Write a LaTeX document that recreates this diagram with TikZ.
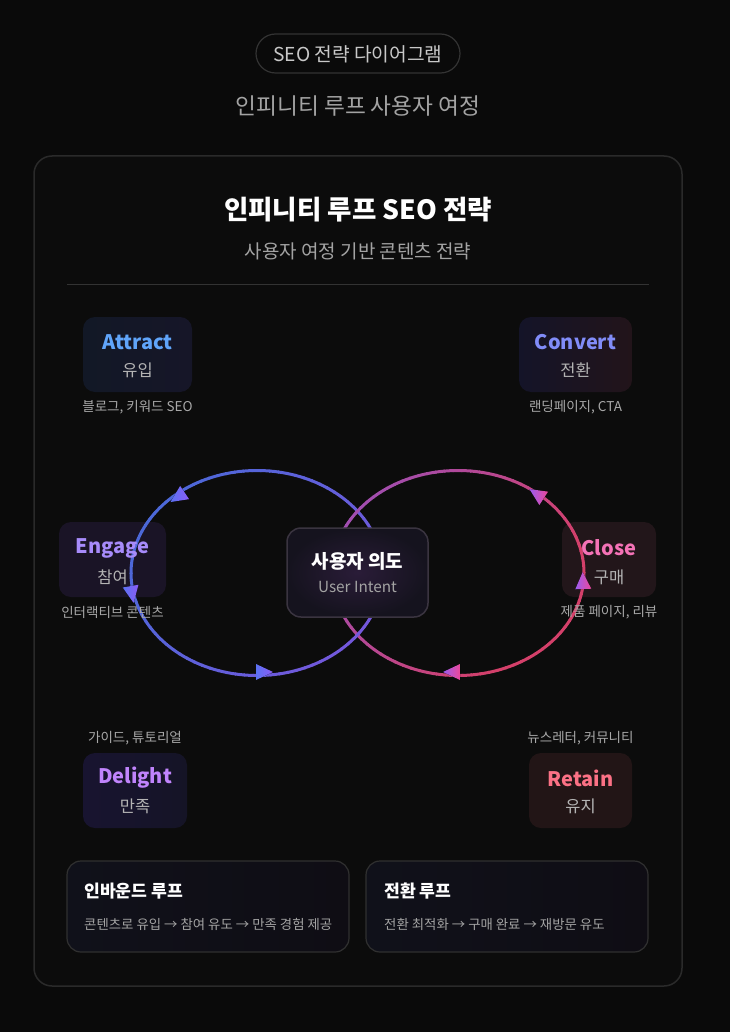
\documentclass[tikz,border=0pt]{standalone}
\usepackage{fontspec}
\setmainfont{Noto Sans CJK KR}
\usetikzlibrary{calc}
\definecolor{bg}{HTML}{0A0A0A}
\definecolor{cardfill}{HTML}{0C0C0C}
\definecolor{cardline}{HTML}{2A2A2A}
\definecolor{pillline}{HTML}{333333}
\definecolor{gA}{HTML}{C8C8C8}
\definecolor{gB}{HTML}{A3A3A3}
\definecolor{gC}{HTML}{B4B4B4}
\definecolor{cap}{HTML}{A8A8A8}
\definecolor{cAttract}{HTML}{60A5FA}
\definecolor{cConvert}{HTML}{818CF8}
\definecolor{cEngage}{HTML}{A78BFA}
\definecolor{cClose}{HTML}{F472B6}
\definecolor{cDelight}{HTML}{C084FC}
\definecolor{cRetain}{HTML}{FB7185}
\definecolor{lpA}{HTML}{4C68D8}
\definecolor{lpB}{HTML}{7458DC}
\definecolor{rpA}{HTML}{9850BC}
\definecolor{rpB}{HTML}{D4406A}
\definecolor{laA}{HTML}{5B72F2}
\definecolor{laB}{HTML}{8B5CF6}
\definecolor{raA}{HTML}{9B5CF0}
\definecolor{raB}{HTML}{EC4899}
\definecolor{fAttractL}{HTML}{121826}
\definecolor{fAttractR}{HTML}{161628}
\definecolor{fConvertL}{HTML}{141428}
\definecolor{fConvertR}{HTML}{22141A}
\definecolor{fEngage}{HTML}{1A1426}
\definecolor{fClose}{HTML}{22161A}
\definecolor{fDelightL}{HTML}{181430}
\definecolor{fDelightR}{HTML}{151426}
\definecolor{fRetain}{HTML}{221516}
\definecolor{cenIn}{HTML}{2A1C38}
\definecolor{cenOut}{HTML}{15131E}
\definecolor{cenLine}{HTML}{3A3440}
\definecolor{botL}{HTML}{10111A}
\definecolor{botR}{HTML}{0F0D14}
\definecolor{botLine}{HTML}{303030}
\tikzset{
  stagebox/.style={rounded corners=12pt, inner sep=0pt, minimum height=75pt},
  sttl/.style={inner sep=0pt, anchor=center, font=\bfseries\fontsize{20}{24}\selectfont},
  ssub/.style={inner sep=0pt, anchor=center, text=gC, font=\fontsize{16.5}{20}\selectfont},
  scap/.style={inner sep=0pt, anchor=center, text=cap, font=\fontsize{13.5}{16}\selectfont},
  loopline/.style={line width=3pt, line cap=round},
  botbox/.style={rounded corners=14pt, draw=botLine, line width=1.2pt, inner sep=0pt,
    minimum width=282pt, minimum height=91pt, left color=botL, right color=botR},
  bttl/.style={inner sep=0pt, anchor=west, text=white, font=\bfseries\fontsize{17.2}{20}\selectfont},
  bsub/.style={inner sep=0pt, anchor=west, text=gB, font=\fontsize{13.4}{16}\selectfont},
}
\begin{document}
\begin{tikzpicture}[x=1pt,y=-1pt]
\useasboundingbox (0,0) rectangle (730,1032);
\fill[bg] (0,0) rectangle (730,1032);

% header
\node[draw=pillline, line width=1.2pt, fill=bg, rounded corners=19.5pt, minimum width=204pt,
      minimum height=39pt, inner sep=0pt] (pill) at (358,53.5) {};
\node[inner sep=0pt, text=gA, font=\fontsize{19.2}{22}\selectfont] (pilltxt) at (358,54) {SEO 전략 다이어그램};
\node[inner sep=0pt, text=gB, font=\fontsize{22.7}{26}\selectfont] (subtitle) at (358,106) {인피니티 루프 사용자 여정};

% card
\node[draw=cardline, line width=1.5pt, fill=cardfill, rounded corners=18pt, minimum width=648pt,
      minimum height=830pt, inner sep=0pt] (card) at (358,571) {};
\node[inner sep=0pt, text=white, font=\bfseries\fontsize{26.5}{31}\selectfont] (title) at (358,210) {인피니티 루프 SEO 전략};
\node[inner sep=0pt, text=gB, font=\fontsize{19}{22}\selectfont] (ctitle) at (358,251) {사용자 여정 기반 콘텐츠 전략};
\coordinate (divL) at (67,284);
\coordinate (divR) at (649,284);
\draw[pillline, line width=1pt] (divL) -- (divR);

% stage boxes
\node[stagebox, minimum width=109pt, left color=fAttractL, right color=fAttractR] (attract) at (137.5,354.5) {};
\node[stagebox, minimum width=113pt, left color=fConvertL, right color=fConvertR] (convert) at (575.5,354.5) {};
\node[stagebox, minimum width=107pt, fill=fEngage] (engage) at (112.5,559.5) {};
\node[stagebox, minimum width=94pt, fill=fClose] (close) at (609,559.5) {};
\node[stagebox, minimum width=104pt, left color=fDelightL, right color=fDelightR] (delight) at (135,790.5) {};
\node[stagebox, minimum width=103pt, fill=fRetain] (retain) at (580.5,790.5) {};

% loops
\coordinate (cL) at (257,573);
\coordinate (cR) at (458,573);
\foreach \a in {0,4,...,356}{
  \pgfmathtruncatemacro\p{50+50*cos(\a+30)}
  \pgfmathtruncatemacro\q{min(100,65+50*cos(\a+30))}
  \draw[loopline, draw={lpB!\p!lpA}] (cL) ++(\a:126pt and 102.5pt)
     arc[start angle=\a, delta angle=4.4, x radius=126pt, y radius=102.5pt];
  \draw[loopline, draw={rpB!\q!rpA}] (cR) ++(\a:126pt and 102.5pt)
     arc[start angle=\a, delta angle=4.4, x radius=126pt, y radius=102.5pt];
}

% stage texts
\node[sttl, text=cAttract] (attractT) at (137.5,342) {Attract};
\node[ssub] (attractS) at (137.5,370) {유입};
\node[scap] (attractC) at (137.5,407) {블로그, 키워드 SEO};
\node[sttl, text=cConvert] (convertT) at (575.5,342) {Convert};
\node[ssub] (convertS) at (575.5,370) {전환};
\node[scap] (convertC) at (575.5,407) {랜딩페이지, CTA};
\node[sttl, text=cEngage] (engageT) at (112.5,548) {Engage};
\node[ssub] (engageS) at (112.5,577) {참여};
\node[scap] (engageC) at (112.5,612) {인터랙티브 콘텐츠};
\node[sttl, text=cClose] (closeT) at (609,548) {Close};
\node[ssub] (closeS) at (609,577) {구매};
\node[scap] (closeC) at (609,612) {제품 페이지, 리뷰};
\node[sttl, text=cDelight] (delightT) at (135,778) {Delight};
\node[ssub] (delightS) at (135,806) {만족};
\node[scap] (delightC) at (135,738) {가이드, 튜토리얼};
\node[sttl, text=cRetain] (retainT) at (580.5,778) {Retain};
\node[ssub] (retainS) at (580.5,806) {유지};
\node[scap] (retainC) at (580.5,738) {뉴스레터, 커뮤니티};

% arrowheads
\foreach \x/\y/\r in {178/497/214, 132/594/-80, 264/672/0}{
  \fill[shift={(\x,\y)}, rotate=\r, left color=laA, right color=laB]
    (9pt,0pt) -- (-8pt,8pt) -- (-8pt,-8pt) -- cycle;
}
\foreach \x/\y/\r in {452/672/180, 583/581/92, 537/494/147}{
  \fill[shift={(\x,\y)}, rotate=\r, left color=raA, right color=raB]
    (9pt,0pt) -- (-8pt,8pt) -- (-8pt,-8pt) -- cycle;
}

% center
\node[draw=cenLine, line width=1.5pt, rounded corners=14pt, inner sep=0pt, minimum width=141pt,
      minimum height=89pt, inner color=cenIn, outer color=cenOut] (center) at (357.5,572.5) {};
\node[inner sep=0pt, text=white, font=\bfseries\fontsize{19}{22}\selectfont] (centerT) at (357.5,561) {사용자 의도};
\node[inner sep=0pt, text=gB, font=\fontsize{15.3}{18}\selectfont] (centerS) at (357.5,587) {User Intent};

% bottom boxes
\node[botbox] (inbound) at (208,906.5) {};
\node[bttl] (inboundT) at (84,891) {인바운드 루프};
\node[bsub] (inboundS) at (84,924) {콘텐츠로 유입 → 참여 유도 → 만족 경험 제공};
\node[botbox] (conv) at (507,906.5) {};
\node[bttl] (convT) at (384,891) {전환 루프};
\node[bsub] (convS) at (384,924) {전환 최적화 → 구매 완료 → 재방문 유도};
\end{tikzpicture}
\end{document}
